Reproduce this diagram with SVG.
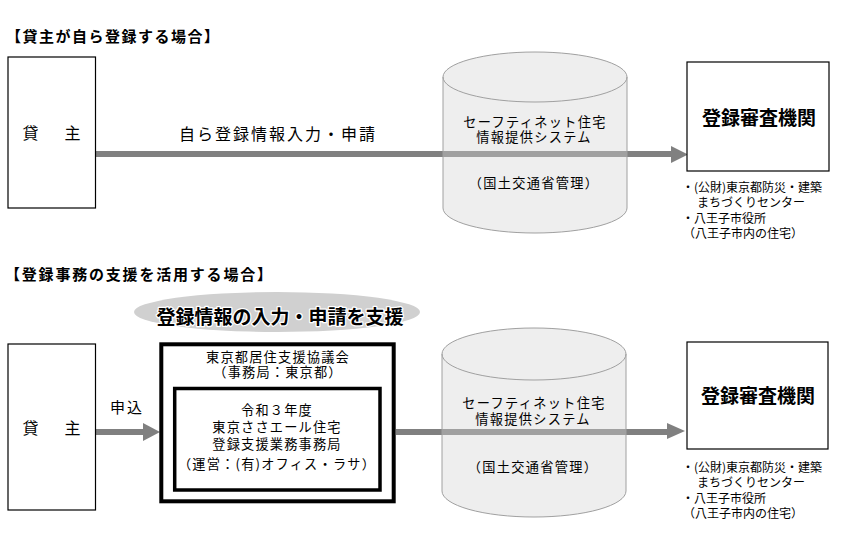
<svg xmlns="http://www.w3.org/2000/svg" width="866" height="552" viewBox="0 0 866 552">
<style>
text{font-family:"Noto Sans CJK JP","Noto Sans CJK SC",sans-serif;fill:#000}
.title{font-size:15px;font-weight:bold;letter-spacing:1.5px}
.box{fill:#fff;stroke:#000;stroke-width:1.2}
.lender{font-size:16px;letter-spacing:5px}
.lbl{font-size:16px;letter-spacing:2px}
.cyl{fill:#d3d3d3;fill-opacity:0.39;stroke:#a0a0a0;stroke-width:1}
.cylcap{fill:none;stroke:#a0a0a0;stroke-width:1}
.ct{font-size:13.2px;letter-spacing:1.3px}
.org{font-size:19px;font-weight:bold}
.note{font-size:12px}
.line{stroke:#808080;stroke-width:6;fill:none}
.head{fill:#808080}
.t14{font-size:13.2px;letter-spacing:1.2px}
</style>

<text class="title" x="6" y="42">【貸主が自ら登録する場合】</text>
<text class="title" x="5" y="280" style="letter-spacing:1.8px">【登録事務の支援を活用する場合】</text>

<g id="connectors">
  <line class="line" x1="95" y1="154" x2="672" y2="154"/>
  <polygon class="head" points="671,146 688,154.5 671,163"/>
  <line class="line" x1="96" y1="432" x2="144" y2="432"/>
  <polygon class="head" points="143,423 160,432 143,441"/>
  <line class="line" x1="396" y1="432" x2="668" y2="432"/>
  <polygon class="head" points="667,423 685,431 667,439"/>
  <text class="lbl" x="278" y="140" text-anchor="middle">自ら登録情報入力・申請</text>
  <text class="lbl" x="127" y="413" text-anchor="middle" style="font-size:15px">申込</text>
</g>

<g id="lender1">
  <rect class="box" x="8" y="57" width="87.5" height="151"/>
  <text class="lender" x="54" y="139" text-anchor="middle">貸　主</text>
</g>

<g id="system1">
  <path class="cyl" d="M443,77 L443,208 A92,25 0 0 0 627,208 L627,77 A92,25 0 0 0 443,77 Z"/>
  <path class="cylcap" d="M443,77 A92,25 0 0 0 627,77"/>
  <text class="ct" text-anchor="middle"><tspan x="535" y="127">セーフティネット住宅</tspan><tspan x="534" y="142">情報提供システム</tspan></text>
  <text class="ct" x="534" y="188" text-anchor="middle">（国土交通省管理）</text>
</g>

<g id="registry1">
  <rect class="box" x="687" y="62" width="142" height="109"/>
  <text class="org" x="759" y="125" text-anchor="middle">登録審査機関</text>
  <text class="note"><tspan x="682" y="192">・(公財)東京都防災・建築</tspan><tspan x="697" y="207">まちづくりセンター</tspan><tspan x="682" y="223">・八王子市役所</tspan><tspan x="683" y="238">（八王子市内の住宅）</tspan></text>
</g>

<g id="support-label">
  <ellipse cx="277" cy="312" rx="143" ry="20" fill="#d0d0d0"/>
  <text x="280" y="324" text-anchor="middle" style="font-size:19px;font-weight:bold;stroke:#fff;stroke-width:2.5px;paint-order:stroke;stroke-linejoin:round">登録情報の入力・申請を支援</text>
</g>

<g id="lender2">
  <rect class="box" x="8" y="344" width="87.5" height="166"/>
  <text class="lender" x="54" y="434" text-anchor="middle">貸　主</text>
</g>

<g id="council">
  <rect x="161.3" y="344.3" width="232.4" height="157" fill="#fff" stroke="#000" stroke-width="4"/>
  <text class="t14" text-anchor="middle"><tspan x="278" y="362">東京都居住支援協議会</tspan><tspan x="278" y="377">（事務局：東京都）</tspan></text>
</g>

<g id="office">
  <rect x="174.7" y="388.5" width="205.3" height="101.5" fill="#fff" stroke="#000" stroke-width="3.5"/>
  <text class="t14" text-anchor="middle"><tspan x="277" y="415">令和３年度</tspan><tspan x="277" y="432">東京ささエール住宅</tspan><tspan x="277" y="449">登録支援業務事務局</tspan><tspan x="277" y="469">（運営：(有)オフィス・ラサ）</tspan></text>
</g>

<g id="system2">
  <path class="cyl" d="M442,354 L442,491 A92,26 0 0 0 626,491 L626,354 A92,26 0 0 0 442,354 Z"/>
  <path class="cylcap" d="M442,354 A92,26 0 0 0 626,354"/>
  <text class="ct" text-anchor="middle"><tspan x="534" y="408">セーフティネット住宅</tspan><tspan x="533" y="424">情報提供システム</tspan></text>
  <text class="ct" x="533" y="472" text-anchor="middle">（国土交通省管理）</text>
</g>

<g id="registry2">
  <rect class="box" x="687" y="342" width="141" height="107"/>
  <text class="org" x="758" y="403" text-anchor="middle">登録審査機関</text>
  <text class="note"><tspan x="682" y="472">・(公財)東京都防災・建築</tspan><tspan x="697" y="487">まちづくりセンター</tspan><tspan x="682" y="503">・八王子市役所</tspan><tspan x="683" y="518">（八王子市内の住宅）</tspan></text>
</g>
</svg>
